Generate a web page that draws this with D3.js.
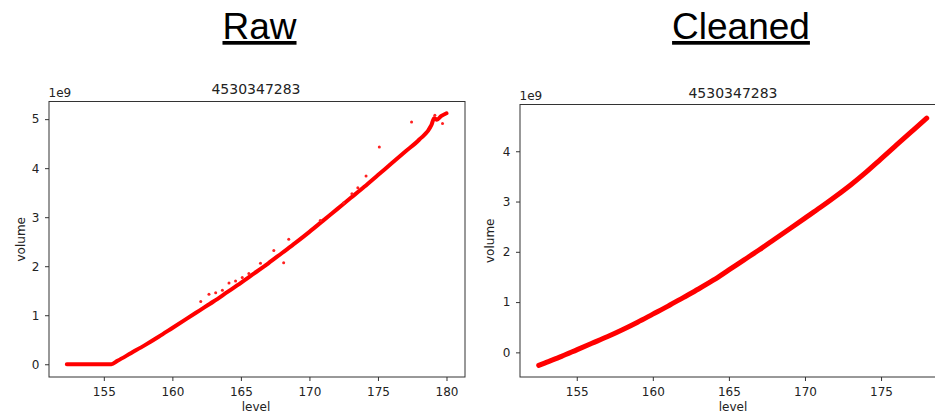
<!DOCTYPE html>
<html>
<head>
<meta charset="utf-8">
<script src="https://cdn.jsdelivr.net/npm/d3@7"></script>
<style>
  body { margin: 0; background: #fff; }
  svg { display: block; }
  .tick text { font-family: "DejaVu Sans", sans-serif; font-size: 12px; fill: #222; }
  .tick line { stroke: #333; }
</style>
</head>
<body>
<div id="chart"></div>
<script>
// raw series, main band (level, volume in 1e9)
const rawLevel  = [152.3, 155.55, 156.0, 157.0, 158.0, 159.0, 160.0, 161.0, 162.0, 163.0, 164.0, 165.0, 166.0, 167.0, 168.0, 169.0, 170.0, 171.0, 172.0, 173.0, 174.0, 175.0, 176.0, 177.0, 178.0, 178.9, 179.1, 179.3, 179.6, 180.0];
const rawVolume = [0, 0, 0.07, 0.23, 0.39, 0.56, 0.74, 0.92, 1.10, 1.28, 1.47, 1.66, 1.86, 2.06, 2.27, 2.48, 2.70, 2.93, 3.16, 3.39, 3.62, 3.86, 4.10, 4.34, 4.58, 4.88, 5.02, 4.99, 5.06, 5.12];

// raw stray points
const rawOutLevel  = [162.07, 162.67, 163.16, 163.65, 164.13, 164.61, 165.1, 165.58, 166.43, 167.4, 168.12, 168.49, 170.79, 172.48, 173.1, 173.53, 174.13, 175.1, 177.45, 179.15, 179.71];
const rawOutVolume = [1.28, 1.43, 1.46, 1.51, 1.66, 1.70, 1.77, 1.85, 2.06, 2.32, 2.07, 2.55, 2.93, 3.29, 3.48, 3.60, 3.84, 4.43, 4.94, 5.08, 4.91];

// cleaned series
const cleanLevel  = [152.5, 153, 154, 155, 156, 157, 158, 159, 160, 161, 162, 163, 164, 165, 166, 167, 168, 169, 170, 171, 172, 173, 174, 175, 176, 177, 178];
const cleanVolume = [-0.26, -0.20, -0.08, 0.05, 0.18, 0.31, 0.45, 0.60, 0.76, 0.92, 1.09, 1.26, 1.44, 1.64, 1.84, 2.04, 2.25, 2.46, 2.67, 2.88, 3.10, 3.33, 3.58, 3.85, 4.12, 4.39, 4.66];

const rawXTicks = [155, 160, 165, 170, 175, 180];
const rawYTicks = [0, 1, 2, 3, 4, 5];
const cleanXTicks = [155, 160, 165, 170, 175];
const cleanYTicks = [0, 1, 2, 3, 4];

const headings = ["Raw", "Cleaned"];
const plotTitle = "4530347283";

const svg = d3.select('#chart')
    .append('svg')
    .attr('width', 935)
    .attr('height', 414);

// big underlined headings
svg.selectAll('.heading')
    .data([{t: headings[0], x: 259.5}, {t: headings[1], x: 741}])
    .enter()
    .append('text')
    .attr('class', 'heading')
    .attr('x', d => d.x)
    .attr('y', 39)
    .attr('text-anchor', 'middle')
    .style('font-family', '"Liberation Sans", Arial, sans-serif')
    .style('font-size', '37px')
    .style('text-decoration', 'underline')
    .style('fill', '#000')
    .text(d => d.t);

function drawPanel(cfg){
    const x = d3.scaleLinear().domain(cfg.xDomain).range([cfg.left, cfg.right]);
    const y = d3.scaleLinear().domain(cfg.yDomain).range([cfg.bottom, cfg.top]);

    const g = svg.append('g');

    g.append('g')
        .attr('transform', `translate(0,${cfg.bottom})`)
        .call(d3.axisBottom(x).tickValues(cfg.xTicks).tickSize(4).tickPadding(6.5).tickFormat(d3.format('d')))
        .call(a => a.select('.domain').remove());

    g.append('g')
        .attr('transform', `translate(${cfg.left},0)`)
        .call(d3.axisLeft(y).tickValues(cfg.yTicks).tickSize(4).tickPadding(5.5).tickFormat(d3.format('d')))
        .call(a => a.select('.domain').remove());

    // data
    const line = d3.line().curve(d3.curveMonotoneX).x(d => x(d[0])).y(d => y(d[1]));
    const pts = cfg.level.map((v, i) => [v, cfg.volume[i]]);
    g.append('path')
        .datum(pts)
        .attr('d', line)
        .attr('fill', 'none')
        .attr('stroke', '#ff0000')
        .attr('stroke-width', cfg.lineWidth)
        .attr('stroke-linecap', 'round')
        .attr('stroke-linejoin', 'round');

    if(cfg.outLevel){
        g.selectAll('.stray')
            .data(cfg.outLevel.map((v, i) => [v, cfg.outVolume[i]]))
            .enter()
            .append('circle')
            .attr('class', 'stray')
            .attr('cx', d => x(d[0]))
            .attr('cy', d => y(d[1]))
            .attr('r', 1.5)
            .attr('fill', '#ff2020');
    }

    // frame
    g.append('rect')
        .attr('x', cfg.left)
        .attr('y', cfg.top)
        .attr('width', cfg.right - cfg.left)
        .attr('height', cfg.bottom - cfg.top)
        .attr('fill', 'none')
        .attr('stroke', '#333')
        .attr('stroke-width', 1);

    const font = '"DejaVu Sans", sans-serif';
    g.append('text')
        .attr('x', cfg.titleX)
        .attr('y', cfg.titleY)
        .attr('text-anchor', 'middle')
        .style('font-family', font)
        .style('font-size', '14px')
        .style('fill', '#222')
        .text(plotTitle);

    g.append('text')
        .attr('x', cfg.left - 0.5)
        .attr('y', cfg.top - 5)
        .style('font-family', font)
        .style('font-size', '12px')
        .style('fill', '#222')
        .text('1e9');

    g.append('text')
        .attr('transform', `translate(${cfg.ylabelX},${(cfg.top + cfg.bottom) / 2}) rotate(-90)`)
        .attr('text-anchor', 'middle')
        .style('font-family', font)
        .style('font-size', '12px')
        .style('fill', '#222')
        .text('volume');

    g.append('text')
        .attr('x', cfg.titleX)
        .attr('y', 411)
        .attr('text-anchor', 'middle')
        .style('font-family', font)
        .style('font-size', '12px')
        .style('fill', '#222')
        .text('level');
}

drawPanel({
    level: rawLevel, volume: rawVolume,
    outLevel: rawOutLevel, outVolume: rawOutVolume,
    xDomain: [151.0, 181.35], yDomain: [-0.26, 5.36],
    xTicks: rawXTicks, yTicks: rawYTicks,
    left: 49, right: 465, top: 101.5, bottom: 377,
    titleX: 256, titleY: 93.5, ylabelX: 24.5, lineWidth: 4
});

drawPanel({
    level: cleanLevel, volume: cleanVolume,
    xDomain: [151.27, 179.4], yDomain: [-0.49, 4.93],
    xTicks: cleanXTicks, yTicks: cleanYTicks,
    left: 520, right: 948, top: 104.5, bottom: 377,
    titleX: 733, titleY: 97.5, ylabelX: 494, lineWidth: 5
});
</script>
</body>
</html>
